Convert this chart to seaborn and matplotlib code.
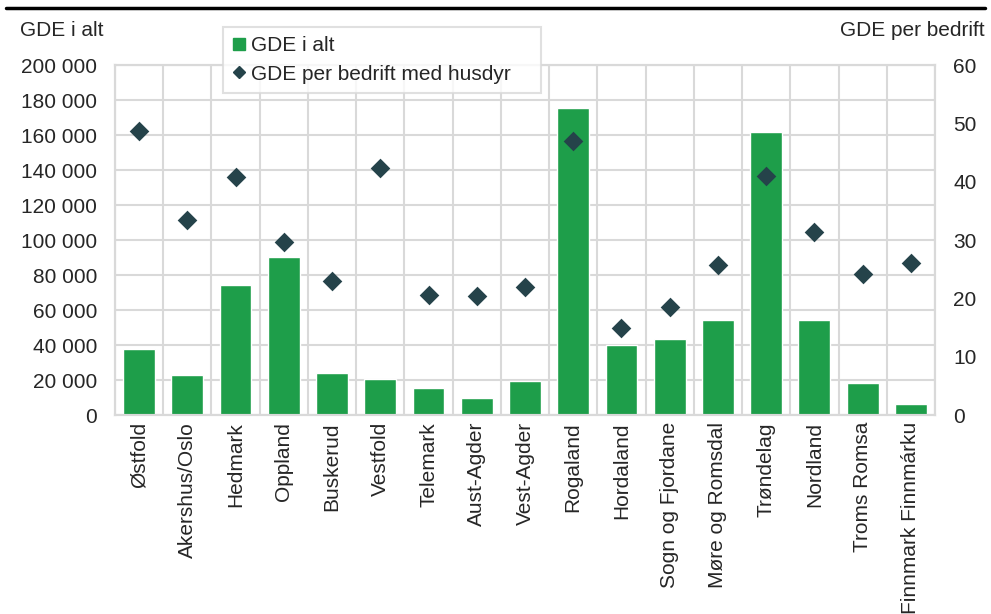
import numpy as np
import pandas as pd
import seaborn as sns
import matplotlib.pyplot as plt
from matplotlib.lines import Line2D
from matplotlib.ticker import FuncFormatter, MultipleLocator

# data
REGIONS = ['Østfold', 'Akershus/Oslo', 'Hedmark', 'Oppland', 'Buskerud', 'Vestfold',
           'Telemark', 'Aust-Agder', 'Vest-Agder', 'Rogaland', 'Hordaland',
           'Sogn og Fjordane', 'Møre og Romsdal', 'Trøndelag', 'Nordland',
           'Troms Romsa', 'Finnmark Finnmárku']
GDE_TOTAL = [37700, 23000, 74300, 90200, 24000, 20700, 15500, 9800, 19500, 175500,
             40000, 43500, 54500, 161500, 54500, 18300, 6300]
GDE_PER_FARM = [48.7, 33.4, 40.8, 29.6, 23.0, 42.3, 20.5, 20.4, 21.9, 46.9, 14.9,
                18.5, 25.7, 41.0, 31.4, 24.2, 26.1]

BAR_COLOR = '#1e9e4a'
DOT_COLOR = '#25434a'
GRID_COLOR = '#d9d9d9'
FS = 15

sns.set_style('white')
plt.rcParams['font.family'] = ['Liberation Sans', 'DejaVu Sans']

df = pd.DataFrame({'region': REGIONS, 'total': GDE_TOTAL, 'per_farm': GDE_PER_FARM})

fig, ax = plt.subplots(figsize=(9.91, 6.14), dpi=100)
fig.subplots_adjust(left=0.116, right=0.9435, top=0.894, bottom=0.324)

sns.barplot(data=df, x='region', y='total', color=BAR_COLOR, width=0.66,
            saturation=1, ax=ax, zorder=2)
ax.set_ylim(0, 200000)
ax.yaxis.set_major_locator(MultipleLocator(20000))
ax.yaxis.set_major_formatter(FuncFormatter(lambda v, p: f'{int(v):,}'.replace(',', ' ')))
ax.set_xlim(-0.5, len(REGIONS) - 0.5)
ax.set_xticks(np.arange(-0.5, len(REGIONS), 1), minor=True)
ax.grid(True, axis='y', which='major', color=GRID_COLOR, lw=1.5, zorder=0)
ax.grid(True, axis='x', which='minor', color=GRID_COLOR, lw=1.5, zorder=0)
ax.set_axisbelow(True)
ax.set_xlabel('')
ax.set_ylabel('')
ax.tick_params(axis='x', which='both', length=0, labelsize=FS, rotation=90, pad=5)
ax.tick_params(axis='y', length=0, labelsize=FS, pad=13)

ax2 = ax.twinx()
sns.stripplot(data=df, x='region', y='per_farm', jitter=False, marker='D', size=10,
              color=DOT_COLOR, ax=ax2, zorder=3)
ax2.set_ylim(0, 60)
ax2.yaxis.set_major_locator(MultipleLocator(10))
ax2.set_xlim(-0.5, len(REGIONS) - 0.5)
ax2.set_ylabel('')
ax2.set_xlabel('')
ax2.tick_params(axis='y', length=0, labelsize=FS, pad=13)

for a in (ax, ax2):
    for s in a.spines.values():
        s.set_color(GRID_COLOR)
        s.set_linewidth(1.5)

handles = [Line2D([], [], ls='', marker='s', color=BAR_COLOR, markersize=8),
           Line2D([], [], ls='', marker='D', color=DOT_COLOR, markersize=6)]
leg = ax2.legend(handles, ['GDE i alt', 'GDE per bedrift med husdyr'],
                 loc='upper left', bbox_to_anchor=(0.1317, 1.109, 0.388, 0),
                 mode='expand', fontsize=FS,
                 frameon=True, fancybox=False, handlelength=0.6, handletextpad=0.3,
                 borderpad=0.45, labelspacing=0.45, borderaxespad=0)
leg.get_frame().set_edgecolor(GRID_COLOR)
leg.get_frame().set_linewidth(1.5)

fig.text(20 / 991, 1 - 31 / 614, 'GDE i alt', fontsize=FS, va='center', ha='left')
fig.text(985 / 991, 1 - 31 / 614, 'GDE per bedrift', fontsize=FS, va='center', ha='right')
fig.add_artist(Line2D([6 / 991, 985 / 991], [1 - 7.5 / 614] * 2,
                      transform=fig.transFigure, color='black', lw=2.5))

fig.savefig('out.png', dpi=100)
